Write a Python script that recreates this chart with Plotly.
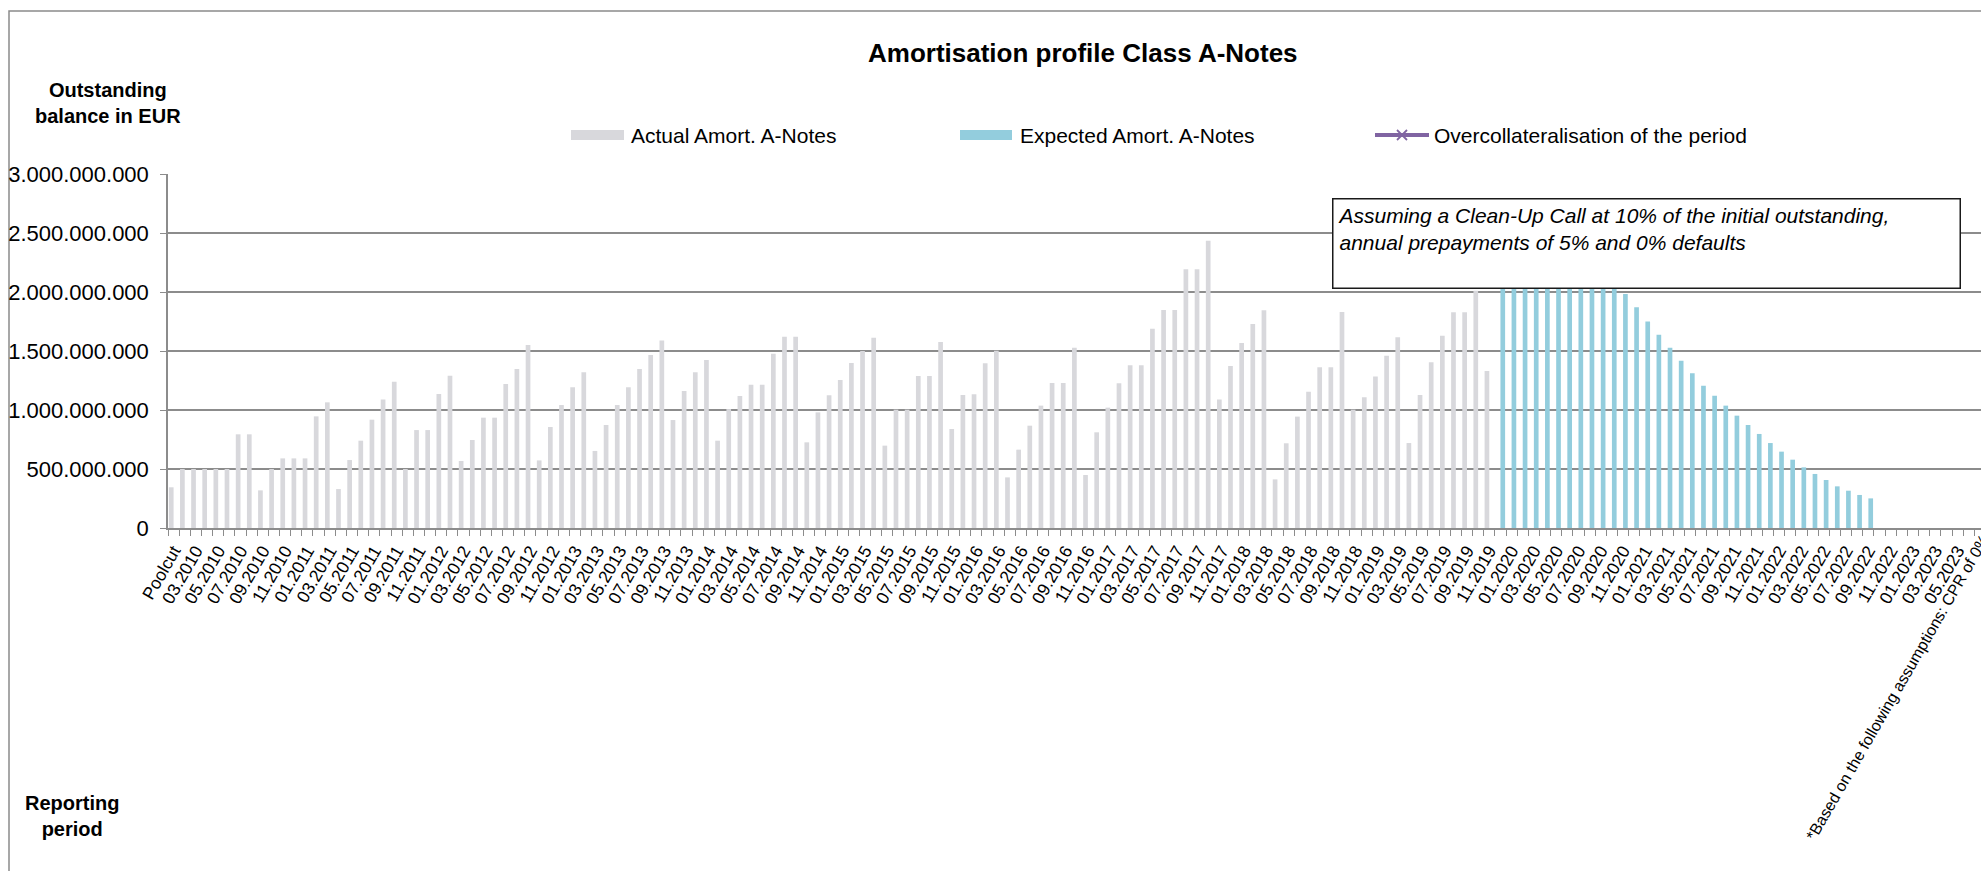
import plotly.graph_objects as go

# ---------------- data ----------------
FOOTNOTE = "*Based on the following assumptions: CPR of 0%"

# categories: Poolcut, then monthly reporting periods 02.2010 ... 06.2023
periods = []
y, m = 2010, 2
while (y, m) <= (2023, 6):
    periods.append(f"{m:02d}.{y}")
    m += 1
    if m > 12:
        m, y = 1, y + 1
categories = ["Poolcut"] + periods

# Actual amortisation A-Notes (EUR million), Poolcut .. 11.2019
actual_amort_mn = [
    345, 500, 500, 500, 500, 500, 794, 794, 319, 500,
    590, 590, 590, 946, 1065, 330, 576, 740, 918, 1088,
    1240, 500, 830, 830, 1136, 1291, 568, 746, 935, 935,
    1220, 1347, 1551, 573, 856, 1042, 1192, 1319, 653, 873,
    1042, 1192, 1347, 1466, 1590, 915, 1161, 1319, 1424, 740,
    1008, 1119, 1215, 1215, 1477, 1621, 1621, 726, 980, 1124,
    1254, 1398, 1500, 1613, 698, 1003, 1003, 1288, 1288, 1576,
    839, 1127, 1133, 1396, 1503, 429, 664, 867, 1037, 1229,
    1229, 1528, 449, 811, 1020, 1226, 1379, 1379, 1689, 1848,
    1848, 2192, 2192, 2435, 1088, 1373, 1568, 1729, 1845, 412,
    718, 944, 1155, 1362, 1362, 1831, 1003, 1107, 1283, 1460,
    1616, 720, 1127, 1404, 1630, 1828, 1828, 2010, 1331,
]

# Expected amortisation A-Notes (EUR million), 12.2019 .. 09.2022
expected_amort_mn = [
    2100, 2100, 2100, 2100, 2100, 2100, 2100, 2100, 2100, 2100,
    2060, 1983, 1870, 1751, 1638, 1528, 1418, 1311, 1206, 1121,
    1037, 952, 873, 797, 720, 647, 579, 514, 458, 407,
    353, 316, 280, 251,
]

# Overcollateralisation of the period (no visible values in the chart)
overcollateralisation_mn = []

y_ticks = [0, 500_000_000, 1_000_000_000, 1_500_000_000, 2_000_000_000, 2_500_000_000, 3_000_000_000]

# ---------------- build ----------------
n = len(categories)
xs = list(range(n))
actual_y = [v * 1e6 for v in actual_amort_mn] + [None] * (n - len(actual_amort_mn))
exp_start = len(actual_amort_mn)
expected_y = [None] * exp_start + [v * 1e6 for v in expected_amort_mn]
expected_y += [None] * (n - len(expected_y))

W, H = 1981, 871
PL, PR, PT, PB = 168, 1981, 174, 528
CAT_W = 11.15
x_max = -0.5 + (PR - PL) / CAT_W

FONT = "Liberation Sans, Arial, sans-serif"
GRID = "#8c8c8c"
GRAY = "#d8d8dc"
BLUE = "#93cddd"
PURPLE = "#8064a2"


def xp(px):
    return (px - PL) / (PR - PL)


def yp(py):
    return (PB - py) / (PB - PT)


fig = go.Figure()
fig.add_trace(go.Bar(x=xs, y=actual_y, name="Actual Amort. A-Notes",
                     marker=dict(color=GRAY, line=dict(width=0))))
fig.add_trace(go.Bar(x=xs, y=expected_y, name="Expected Amort. A-Notes",
                     marker=dict(color=BLUE, line=dict(width=0))))
fig.add_trace(go.Scatter(x=[], y=overcollateralisation_mn, name="Overcollateralisation of the period",
                         mode="lines+markers", line=dict(color=PURPLE, width=4),
                         marker=dict(symbol="x", color=PURPLE)))

tickvals = xs[::2]
ticktext = [categories[i] for i in tickvals]

shapes = []
# outer chart frame
shapes.append(dict(type="rect", xref="paper", yref="paper",
                   x0=xp(9), x1=xp(2100), y0=yp(11), y1=yp(990),
                   line=dict(color="#8a8a8a", width=1.5), fillcolor="rgba(0,0,0,0)", layer="below"))
# legend swatches
LY = 135
shapes.append(dict(type="rect", xref="paper", yref="paper", x0=xp(571), x1=xp(624),
                   y0=yp(LY - 5), y1=yp(LY + 5), line=dict(width=0), fillcolor=GRAY))
shapes.append(dict(type="rect", xref="paper", yref="paper", x0=xp(960), x1=xp(1012),
                   y0=yp(LY - 5), y1=yp(LY + 5), line=dict(width=0), fillcolor=BLUE))
shapes.append(dict(type="line", xref="paper", yref="paper", x0=xp(1375), x1=xp(1429),
                   y0=yp(LY), y1=yp(LY), line=dict(color=PURPLE, width=4)))
for d in (-1, 1):
    shapes.append(dict(type="line", xref="paper", yref="paper", x0=xp(1397), x1=xp(1407),
                       y0=yp(LY - 5 * d), y1=yp(LY + 5 * d), line=dict(color=PURPLE, width=1.8)))

annotations = [
    dict(text="<b>Amortisation profile Class A-Notes</b>", xref="paper", yref="paper",
         x=xp(1083), y=yp(53), xanchor="center", yanchor="middle", showarrow=False,
         font=dict(size=26, color="black", family=FONT)),
    dict(text="<b>Outstanding<br>balance in EUR</b>", xref="paper", yref="paper",
         x=xp(108), y=yp(103), xanchor="center", yanchor="middle", showarrow=False,
         font=dict(size=20, color="black", family=FONT)),
    dict(text="<b>Reporting<br>period</b>", xref="paper", yref="paper",
         x=xp(72), y=yp(816), xanchor="center", yanchor="middle", showarrow=False,
         font=dict(size=20, color="black", family=FONT)),
    dict(text="Actual Amort. A-Notes", xref="paper", yref="paper", x=xp(629), y=yp(LY),
         xanchor="left", yanchor="middle", showarrow=False,
         font=dict(size=21, color="black", family=FONT)),
    dict(text="Expected Amort. A-Notes", xref="paper", yref="paper", x=xp(1018), y=yp(LY),
         xanchor="left", yanchor="middle", showarrow=False,
         font=dict(size=21, color="black", family=FONT)),
    dict(text="Overcollateralisation of the period", xref="paper", yref="paper", x=xp(1432), y=yp(LY),
         xanchor="left", yanchor="middle", showarrow=False,
         font=dict(size=21, color="black", family=FONT)),
    dict(text="<i>Assuming a Clean-Up Call at 10% of the initial outstanding,<br>"
              "annual prepayments of 5% and 0% defaults</i>",
         xref="paper", yref="paper", x=xp(1332), y=yp(198), xanchor="left", yanchor="top",
         width=618, height=80, align="left", valign="top", showarrow=False,
         bgcolor="white", bordercolor="#1a1a1a", borderwidth=1.5, borderpad=4,
         font=dict(size=21, color="black", family=FONT)),
    # footnote written as the last (rotated) category label of the x axis
    dict(text=FOOTNOTE, xref="paper", yref="paper", x=xp(1800), y=yp(846),
         xanchor="left", yanchor="bottom", textangle=-60, showarrow=False,
         font=dict(size=16, color="black", family=FONT)),
]

fig.update_layout(
    width=W, height=H,
    margin=dict(l=PL, r=W - PR, t=PT, b=H - PB, pad=0, autoexpand=False),
    paper_bgcolor="white", plot_bgcolor="white",
    barmode="group", bargap=0.16, bargroupgap=0,
    showlegend=False,
    separators=",.",
    font=dict(family=FONT, color="black", size=20),
    shapes=shapes, annotations=annotations,
    xaxis=dict(
        type="linear", range=[-0.5, x_max], tickmode="array", tickvals=tickvals, ticktext=ticktext,
        tickangle=-60, ticks="", showgrid=False, zeroline=False, automargin=False,
        showline=True, linecolor=GRID, linewidth=1.5,
        tickfont=dict(size=17.5, family=FONT, color="black"),
        ticklabeloverflow="allow", ticklabelstandoff=4,
        minor=dict(ticks="outside", tickmode="linear", tick0=-0.5, dtick=1, ticklen=6,
                   tickcolor=GRID, tickwidth=1.3, showgrid=False),
    ),
    yaxis=dict(
        range=[0, 3e9], tickmode="array", tickvals=y_ticks, tickformat=",d", automargin=False,
        showgrid=True, gridcolor=GRID, gridwidth=1.5, zeroline=False,
        showline=True, linecolor=GRID, linewidth=1.5,
        ticks="outside", ticklen=6, tickcolor=GRID, tickwidth=1.3,
        tickfont=dict(size=22, family=FONT, color="black"), ticklabelstandoff=7,
    ),
)

fig.write_html("out.html")
